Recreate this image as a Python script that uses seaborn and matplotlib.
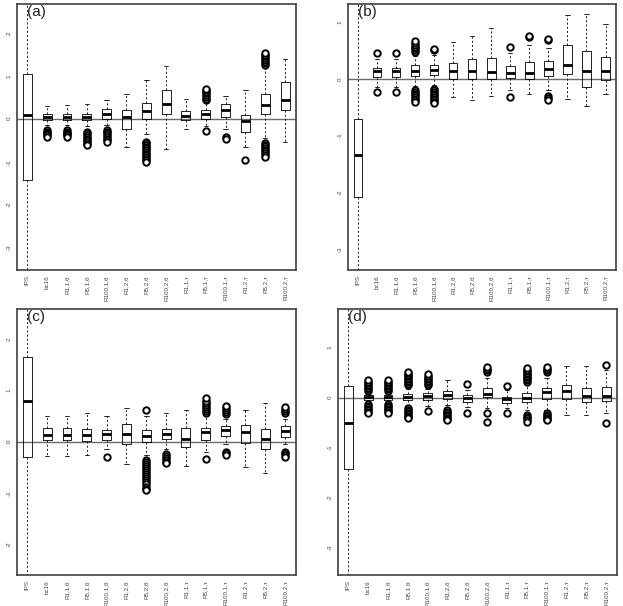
import numpy as np
import pandas as pd
import matplotlib
matplotlib.use("Agg")
import matplotlib.pyplot as plt
import seaborn as sns

# group names along the x axis (same in all four panels)
cats = ["IPS", "bc16", "R1,1,θ", "R5,1,θ", "R100,1,θ", "R1,2,θ", "R5,2,θ", "R100,2,θ",
        "R1,1,τ", "R5,1,τ", "R100,1,τ", "R1,2,τ", "R5,2,τ", "R100,2,τ"]

# panel (a): whisker ends, quartiles and medians
lo_a = [-5, -0.15, -0.15, -0.18, -0.15, -0.66, -0.35, -0.71, -0.23, -0.18, -0.25, -0.65, -0.45, -0.53]
q1_a = [-1.43, -0.02, -0.03, -0.03, 0.0, -0.25, 0.0, 0.1, -0.02, 0.0, 0.03, -0.31, 0.12, 0.2]
med_a = [0.09, 0.04, 0.04, 0.05, 0.12, 0.03, 0.17, 0.34, 0.06, 0.11, 0.2, -0.05, 0.31, 0.43]
q3_a = [1.03, 0.12, 0.12, 0.12, 0.22, 0.2, 0.37, 0.68, 0.17, 0.2, 0.34, 0.09, 0.57, 0.85]
hi_a = [5, 0.29, 0.31, 0.35, 0.43, 0.57, 0.89, 1.22, 0.45, 0.38, 0.54, 0.68, 1.2, 1.4]
out_a = [[],
         [-0.27, -0.3, -0.33, -0.36, -0.39, -0.42],
         [-0.27, -0.3, -0.33, -0.36, -0.39, -0.42],
         [-0.3, -0.34, -0.38, -0.42, -0.46, -0.5, -0.54, -0.58, -0.6],
         [-0.26, -0.3, -0.34, -0.38, -0.42, -0.46, -0.5, -0.53],
         [],
         [-0.53, -0.57, -0.61, -0.65, -0.69, -0.73, -0.77, -0.81, -0.85, -0.89, -0.93, -0.97, -1.0],
         [],
         [],
         [0.43, 0.47, 0.51, 0.55, 0.59, 0.63, 0.67, 0.7, -0.28],
         [-0.43, -0.47],
         [-0.95],
         [1.25, 1.29, 1.33, 1.37, 1.41, 1.45, 1.49, 1.52,
          -0.56, -0.6, -0.64, -0.68, -0.72, -0.76, -0.8, -0.84, -0.88],
         []]

# panel (b)
lo_b = [-5, -0.15, -0.15, -0.12, -0.1, -0.32, -0.37, -0.3, -0.2, -0.27, -0.2, -0.35, -0.47, -0.27]
q1_b = [-2.08, 0.03, 0.03, 0.05, 0.06, 0.0, 0.0, 0.0, 0.01, 0.0, 0.05, 0.09, -0.15, -0.02]
med_b = [-1.35, 0.13, 0.13, 0.14, 0.15, 0.13, 0.14, 0.12, 0.11, 0.1, 0.17, 0.25, 0.14, 0.13]
q3_b = [-0.71, 0.19, 0.2, 0.24, 0.24, 0.28, 0.35, 0.36, 0.23, 0.29, 0.31, 0.59, 0.49, 0.38]
hi_b = [5, 0.35, 0.35, 0.4, 0.42, 0.65, 0.76, 0.9, 0.45, 0.6, 0.55, 1.12, 1.14, 0.96]
out_b = [[],
         [0.45, -0.24],
         [0.45, -0.24],
         [0.48, 0.51, 0.54, 0.57, 0.6, 0.63, 0.66, -0.2, -0.23, -0.26, -0.29, -0.32, -0.35, -0.38, -0.4],
         [0.51, 0.53, -0.17, -0.2, -0.23, -0.26, -0.29, -0.32, -0.35, -0.38, -0.41, -0.43],
         [], [], [],
         [0.56, -0.32],
         [0.74, 0.76],
         [0.68, 0.7, -0.31, -0.34, -0.37],
         [], [], []]

# panel (c)
lo_c = [-5, -0.27, -0.27, -0.25, -0.15, -0.44, -0.25, -0.15, -0.48, -0.2, -0.05, -0.49, -0.61, -0.05]
q1_c = [-0.29, 0.04, 0.04, 0.01, 0.03, -0.04, -0.01, 0.05, -0.1, 0.04, 0.12, -0.03, -0.14, 0.1]
med_c = [0.79, 0.14, 0.14, 0.13, 0.15, 0.16, 0.12, 0.15, 0.06, 0.18, 0.23, 0.18, 0.05, 0.2]
q3_c = [1.64, 0.26, 0.26, 0.24, 0.23, 0.34, 0.22, 0.25, 0.27, 0.26, 0.3, 0.32, 0.24, 0.3]
hi_c = [5, 0.51, 0.51, 0.56, 0.51, 0.66, 0.5, 0.55, 0.62, 0.5, 0.45, 0.62, 0.76, 0.45]
out_c = [[], [], [], [],
         [-0.29],
         [],
         [0.61, -0.35, -0.39, -0.43, -0.47, -0.51, -0.55, -0.59, -0.63, -0.67, -0.71,
          -0.75, -0.79, -0.83, -0.87, -0.91, -0.94],
         [-0.23, -0.27, -0.31, -0.35, -0.39, -0.42],
         [],
         [0.56, 0.6, 0.64, 0.68, 0.72, 0.76, 0.8, 0.85, -0.33],
         [0.53, 0.57, 0.61, 0.65, 0.7, -0.19, -0.22, -0.25],
         [], [],
         [0.56, 0.6, 0.64, 0.68, -0.19, -0.22, -0.26, -0.29]]

# panel (d)
lo_d = [-5, -0.1, -0.1, -0.15, -0.17, -0.15, -0.18, -0.2, -0.2, -0.25, -0.25, -0.35, -0.35, -0.3]
q1_d = [-1.42, -0.05, -0.04, -0.05, -0.05, -0.03, -0.09, 0.01, -0.11, -0.09, -0.02, -0.03, -0.09, -0.06]
med_d = [-0.51, 0.01, 0.01, 0.02, 0.03, 0.06, -0.01, 0.07, -0.03, -0.01, 0.11, 0.13, 0.04, 0.04]
q3_d = [0.23, 0.05, 0.05, 0.07, 0.09, 0.14, 0.05, 0.19, 0.02, 0.09, 0.19, 0.26, 0.19, 0.21]
hi_d = [5, 0.1, 0.1, 0.17, 0.17, 0.35, 0.15, 0.4, 0.15, 0.25, 0.4, 0.63, 0.63, 0.55]
out_d = [[],
         [0.14, 0.17, 0.2, 0.23, 0.26, 0.29, 0.32, 0.35, -0.13, -0.16, -0.19, -0.22, -0.25, -0.28, -0.31],
         [0.14, 0.17, 0.2, 0.23, 0.26, 0.29, 0.32, 0.35, -0.13, -0.16, -0.19, -0.22, -0.25, -0.28, -0.3],
         [0.25, 0.28, 0.31, 0.34, 0.37, 0.4, 0.43, 0.46, 0.49, 0.52, -0.21, -0.24, -0.27, -0.3,
          -0.33, -0.36, -0.39, -0.41],
         [0.25, 0.28, 0.31, 0.34, 0.37, 0.4, 0.43, 0.47, -0.26],
         [-0.25, -0.28, -0.31, -0.34, -0.37, -0.4, -0.43, -0.45],
         [0.27, -0.31],
         [0.52, 0.55, 0.58, 0.62, -0.31, -0.49],
         [0.24, -0.31],
         [0.32, 0.35, 0.38, 0.41, 0.44, 0.47, 0.5, 0.53, 0.56, 0.59, -0.35, -0.38, -0.41, -0.44, -0.48],
         [0.52, 0.55, 0.58, 0.62, -0.31, -0.34, -0.37, -0.4, -0.43, -0.45],
         [], [],
         [0.65, -0.5]]

ylims = [(-3.52, 2.67), (-3.37, 1.32), (-2.59, 2.58), (-3.55, 1.77)]
yticks = [[-3, -2, -1, 0, 1, 2], [-3, -2, -1, 0, 1], [-2, -1, 0, 1, 2], [-3, -2, -1, 0, 1]]
labels = ["(a)", "(b)", "(c)", "(d)"]


def draw_panel(ax, lo, q1, med, q3, hi, outliers, ylim, ticks, label):
    # five values per group -> quartiles come out exactly, whiskers go to min/max
    rows = []
    for c, vals in zip(cats, zip(lo, q1, med, q3, hi)):
        for v in vals:
            rows.append((c, v))
    df = pd.DataFrame(rows, columns=["group", "value"])

    orows = [(c, v) for c, vs in zip(cats, outliers) for v in vs]
    odf = pd.DataFrame(orows, columns=["group", "value"])

    ax.axhline(0, color="#6a6a6a", lw=1.0, zorder=0.5)
    sns.boxplot(data=df, x="group", y="value", order=cats, whis=(0, 100), width=0.45,
                fill=False, color="black", linewidth=0.6, showfliers=False,
                medianprops=dict(linewidth=2.0),
                whiskerprops=dict(linestyle=(0, (2.5, 2.5))),
                ax=ax)
    sns.stripplot(data=odf, x="group", y="value", order=cats, jitter=False,
                  color="white", edgecolor="black", linewidth=1.4, size=4.6, ax=ax)

    ax.set_xlim(-0.52, 13.55)
    ax.set_ylim(*ylim)
    ax.set_yticks(ticks)
    ax.set_yticklabels([str(t) for t in ticks], rotation=90, va="center")
    ax.set_xticks(range(len(cats)))
    ax.set_xticklabels(cats, rotation=90)
    ax.set_xlabel("")
    ax.set_ylabel("")
    ax.tick_params(axis="both", direction="out", length=2.5, width=0.6,
                   labelsize=4.5, pad=1.2, colors="#444444", labelcolor="#444444")
    for s in ax.spines.values():
        s.set_visible(True)
        s.set_color("#404040")
        s.set_linewidth(1.2)
    ax.text(0.036, 0.998, label, transform=ax.transAxes, ha="left", va="top",
            fontsize=11, color="#222222")


sns.set_style("white")
plt.rcParams["font.family"] = ["Liberation Sans", "DejaVu Sans"]

fig = plt.figure(figsize=(6.23, 6.06), dpi=100)
W, H = 623, 606
boxes = [(17, 4, 296, 270), (348, 4, 616, 270), (17, 309, 296, 575), (338, 309, 617, 575)]
axes = [fig.add_axes([l / W, 1 - b / H, (r - l) / W, (b - t) / H]) for l, t, r, b in boxes]

draw_panel(axes[0], lo_a, q1_a, med_a, q3_a, hi_a, out_a, ylims[0], yticks[0], labels[0])
draw_panel(axes[1], lo_b, q1_b, med_b, q3_b, hi_b, out_b, ylims[1], yticks[1], labels[1])
draw_panel(axes[2], lo_c, q1_c, med_c, q3_c, hi_c, out_c, ylims[2], yticks[2], labels[2])
draw_panel(axes[3], lo_d, q1_d, med_d, q3_d, hi_d, out_d, ylims[3], yticks[3], labels[3])

fig.savefig("out.png", dpi=100)
